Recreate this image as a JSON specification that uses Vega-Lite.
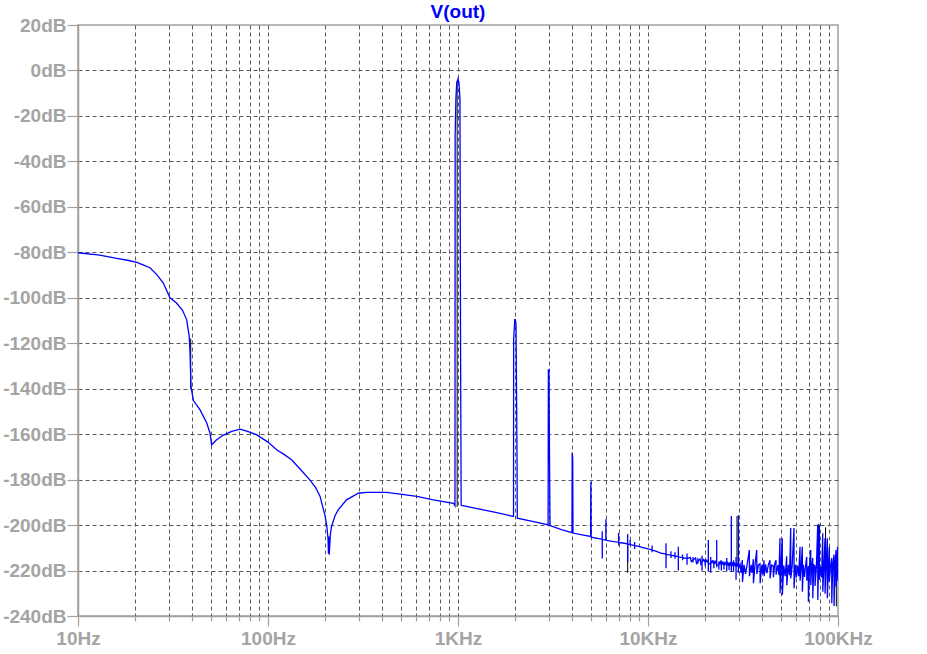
{
  "$schema": "https://vega.github.io/schema/vega-lite/v6.json",
  "autosize": "none",
  "padding": {"left": 78, "top": 25, "right": 89, "bottom": 38},
  "width": 760,
  "height": 591,
  "background": "white",
  "title": {"text": "V(out)", "color": "#0000ff", "font": "Liberation Sans", "fontWeight": "bold", "fontSize": 19, "anchor": "middle", "frame": "group", "baseline": "alphabetic", "offset": 6, "dy": 27},
  "config": {
    "view": {"stroke": "#a0a0a0", "strokeWidth": 1.5},
    "axis": {"labelFont": "Liberation Sans", "labelFontWeight": "bold", "labelFontSize": 19, "labelColor": "#a4a4a4", "domainColor": "#a0a0a0", "domainWidth": 1.5, "tickColor": "#a0a0a0", "tickWidth": 1.2, "title": null, "gridDash": [4, 3], "gridWidth": 1, "labelOverlap": false, "labelBound": false, "labelFlush": false}
  },
  "datasets": {
    "trace": [
      {"f": 10, "db": -80.2}, {"f": 13, "db": -81.2}, {"f": 16, "db": -82.7}, {"f": 18.5, "db": -83.6}, {"f": 20.4, "db": -84.4}, {"f": 22, "db": -85.5}, {"f": 23.9, "db": -86.8}, {"f": 26, "db": -89.8}, {"f": 28.1, "db": -93.5}, {"f": 30.5, "db": -100}, {"f": 33, "db": -102.3}, {"f": 35.5, "db": -105.5}, {"f": 37.3, "db": -109.6}, {"f": 38.5, "db": -117}, {"f": 38.9, "db": -125}, {"f": 39.3, "db": -139}, {"f": 40.5, "db": -145.2}, {"f": 43.9, "db": -149.3}, {"f": 47.6, "db": -155.1}, {"f": 49.5, "db": -159.5}, {"f": 50.5, "db": -164.7}, {"f": 53.7, "db": -162.5}, {"f": 58, "db": -160.5}, {"f": 64.4, "db": -158.8}, {"f": 71.3, "db": -157.8}, {"f": 78, "db": -158.8}, {"f": 87.3, "db": -160.3}, {"f": 100, "db": -163.5}, {"f": 111, "db": -166.9}, {"f": 122, "db": -169}, {"f": 133, "db": -171.3}, {"f": 150, "db": -176}, {"f": 166, "db": -180.1}, {"f": 178, "db": -183.5}, {"f": 188, "db": -187.4}, {"f": 200, "db": -196.2}, {"f": 204, "db": -200.6}, {"f": 207, "db": -206}, {"f": 208, "db": -212.5}, {"f": 209, "db": -205}, {"f": 210, "db": -213}, {"f": 213, "db": -204}, {"f": 216, "db": -200.6}, {"f": 225, "db": -196}, {"f": 234, "db": -193.3}, {"f": 259, "db": -188.9}, {"f": 299, "db": -186}, {"f": 330, "db": -185.6}, {"f": 421, "db": -185.6}, {"f": 496, "db": -186.4}, {"f": 607, "db": -187.4}, {"f": 742, "db": -188.9}, {"f": 947, "db": -190.4}, {"f": 964, "db": -191.5}, {"f": 966, "db": -28.6}, {"f": 975, "db": -12.5}, {"f": 985, "db": -5.4}, {"f": 1000, "db": -3.7}, {"f": 1012, "db": -5.4}, {"f": 1024, "db": -12.5}, {"f": 1031, "db": -115.4}, {"f": 1039, "db": -191.1}, {"f": 1045, "db": -191.3}, {"f": 1300, "db": -193}, {"f": 1600, "db": -194.5}, {"f": 1950, "db": -196.2}, {"f": 1960, "db": -196.2}, {"f": 1963, "db": -118.4}, {"f": 1990, "db": -109.6}, {"f": 2004, "db": -109.6}, {"f": 2020, "db": -111.8}, {"f": 2045, "db": -171.3}, {"f": 2051, "db": -197}, {"f": 2500, "db": -198.5}, {"f": 2950, "db": -199.8}, {"f": 2980, "db": -200}, {"f": 2990, "db": -131.7}, {"f": 3010, "db": -131.7}, {"f": 3040, "db": -184.5}, {"f": 3050, "db": -200.2}, {"f": 3500, "db": -202}, {"f": 3980, "db": -203.3}, {"f": 3990, "db": -168.2}, {"f": 4015, "db": -170.5}, {"f": 4030, "db": -203.5}, {"f": 4500, "db": -204.3}, {"f": 4990, "db": -205}, {"f": 4995, "db": -189.4}, {"f": 5005, "db": -181.1}, {"f": 5020, "db": -205.3},
      {"f": 5500, "db": -206}, {"f": 5740, "db": -206.2}, {"f": 5742, "db": -202.7}, {"f": 5745, "db": -214.7}, {"f": 5748, "db": -206.3}, {"f": 6000, "db": -206.6}, {"f": 6003, "db": -197.4}, {"f": 6008, "db": -206.7}, {"f": 6500, "db": -207.2}, {"f": 7000, "db": -207.6}, {"f": 7003, "db": -203.5}, {"f": 7008, "db": -209}, {"f": 7012, "db": -207.7}, {"f": 7500, "db": -208}, {"f": 7816, "db": -208.3}, {"f": 7818, "db": -203.9}, {"f": 7822, "db": -216.5}, {"f": 7826, "db": -208.4}, {"f": 8050, "db": -208.5}, {"f": 8053, "db": -206.5}, {"f": 8058, "db": -208.6}, {"f": 8500, "db": -209}, {"f": 8503, "db": -207.5}, {"f": 8507, "db": -210.5}, {"f": 8510, "db": -209}, {"f": 9078, "db": -209.5}, {"f": 9200, "db": -209.7}, {"f": 10000, "db": -210.5}, {"f": 10500, "db": -210.9}, {"f": 10503, "db": -209}, {"f": 10507, "db": -212}, {"f": 10510, "db": -211}, {"f": 11000, "db": -211.5}, {"f": 11568, "db": -212.2}, {"f": 12435, "db": -212.8}, {"f": 12438, "db": -208}, {"f": 12442, "db": -219}, {"f": 12446, "db": -212.9}, {"f": 13200, "db": -213.2}, {"f": 13203, "db": -211.5}, {"f": 13207, "db": -214.5}, {"f": 13210, "db": -213.3}, {"f": 13875, "db": -213.6}, {"f": 13878, "db": -212}, {"f": 13882, "db": -214.8}, {"f": 13886, "db": -213.7}, {"f": 14437, "db": -213.9}, {"f": 14440, "db": -209.5}, {"f": 14444, "db": -220}, {"f": 14448, "db": -214}, {"f": 15200, "db": -214.3}, {"f": 15203, "db": -213}, {"f": 15207, "db": -215.5}, {"f": 15210, "db": -214.4}, {"f": 16048, "db": -214.7}, {"f": 16051, "db": -212.5}, {"f": 16055, "db": -217.5}, {"f": 16059, "db": -214.8}, {"f": 16700, "db": -214.2}, {"f": 16900, "db": -216}, {"f": 17249, "db": -215.3}, {"f": 17252, "db": -214}, {"f": 17256, "db": -216.5}, {"f": 17260, "db": -215.4}, {"f": 17800, "db": -214.5}, {"f": 18000, "db": -216.8}, {"f": 18300, "db": -215.8}, {"f": 18303, "db": -214.5}, {"f": 18307, "db": -217}, {"f": 18310, "db": -215.9}, {"f": 18800, "db": -215}, {"f": 19000, "db": -217.2}, {"f": 19243, "db": -216.2}, {"f": 19246, "db": -213.5}, {"f": 19250, "db": -220.1}, {"f": 19254, "db": -216.3}, {"f": 19600, "db": -215.2}, {"f": 20000, "db": -216.5}, {"f": 20003, "db": -215}, {"f": 20007, "db": -218}, {"f": 20010, "db": -216.6}, {"f": 20400, "db": -215.5}, {"f": 20770, "db": -216.8}, {"f": 20773, "db": -206.6}, {"f": 20777, "db": -220.4}, {"f": 20781, "db": -216.9}, {"f": 21380, "db": -217}, {"f": 21383, "db": -214}, {"f": 21387, "db": -221}, {"f": 21391, "db": -217.1}, {"f": 21800, "db": -215.8}, {"f": 22200, "db": -217.2}, {"f": 22203, "db": -215.5}, {"f": 22207, "db": -219}, {"f": 22210, "db": -217.3}, {"f": 22600, "db": -216}, {"f": 22991, "db": -217.4}, {"f": 22994, "db": -206.6}, {"f": 22998, "db": -218.5}, {"f": 23002, "db": -217.5}, {"f": 23600, "db": -217.5}, {"f": 23603, "db": -216}, {"f": 23607, "db": -219.5}, {"f": 23610, "db": -217.6}, {"f": 24000, "db": -216.3}, {"f": 24310, "db": -217.7}, {"f": 24313, "db": -215.5}, {"f": 24317, "db": -220}, {"f": 24321, "db": -217.8}, {"f": 24700, "db": -216.5}, {"f": 25100, "db": -217.8}, {"f": 25103, "db": -216}, {"f": 25107, "db": -219.5}, {"f": 25110, "db": -217.9}, {"f": 25500, "db": -216.6}, {"f": 25960, "db": -218}, {"f": 25963, "db": -214.5}, {"f": 25967, "db": -220.4}, {"f": 25971, "db": -218.1}, {"f": 26300, "db": -216.7}, {"f": 26700, "db": -218.1}, {"f": 26703, "db": -216.5}, {"f": 26707, "db": -219.8}, {"f": 26710, "db": -218.2}, {"f": 27100, "db": -216.8}, {"f": 27448, "db": -218.2}, {"f": 27451, "db": -196}, {"f": 27455, "db": -220.5}, {"f": 27459, "db": -218.3}, {"f": 27800, "db": -216.9}, {"f": 28200, "db": -218.3}, {"f": 28203, "db": -215.5}, {"f": 28207, "db": -220.5}, {"f": 28210, "db": -218.4}, {"f": 28600, "db": -217}, {"f": 29060, "db": -218.5}, {"f": 29063, "db": -214}, {"f": 29067, "db": -224.1}, {"f": 29071, "db": -218.6}, {"f": 29400, "db": -217.2}, {"f": 29880, "db": -218.6}, {"f": 29883, "db": -195.7}, {"f": 29887, "db": -221}, {"f": 29891, "db": -218.7},
      {"f": 30500, "db": -217}, {"f": 30900, "db": -221}, {"f": 31360, "db": -215.4}, {"f": 31420, "db": -225}, {"f": 32000, "db": -217.5}, {"f": 32600, "db": -221.5}, {"f": 33300, "db": -217}, {"f": 34140, "db": -211}, {"f": 34200, "db": -222.5}, {"f": 34900, "db": -217.5}, {"f": 35300, "db": -221}, {"f": 35840, "db": -215}, {"f": 35900, "db": -225.6}, {"f": 36500, "db": -218}, {"f": 37340, "db": -211}, {"f": 37400, "db": -221.5}, {"f": 38100, "db": -217.5}, {"f": 38870, "db": -217}, {"f": 38930, "db": -225.6}, {"f": 39700, "db": -217.5}, {"f": 40200, "db": -221.5}, {"f": 40790, "db": -215.5}, {"f": 40850, "db": -222.5}, {"f": 41600, "db": -217.3}, {"f": 42200, "db": -221.2}, {"f": 43000, "db": -217.5}, {"f": 43860, "db": -215.5}, {"f": 43920, "db": -223.5}, {"f": 44700, "db": -217.6}, {"f": 45650, "db": -218}, {"f": 45710, "db": -223}, {"f": 46400, "db": -217.2}, {"f": 47170, "db": -215.5}, {"f": 47230, "db": -221.8}, {"f": 48300, "db": -217.6}, {"f": 48900, "db": -222}, {"f": 49500, "db": -205.8}, {"f": 49560, "db": -230}, {"f": 50200, "db": -217.2}, {"f": 50900, "db": -205.8}, {"f": 50960, "db": -230.7}, {"f": 51800, "db": -217.8}, {"f": 52700, "db": -222.5}, {"f": 53700, "db": -213.7}, {"f": 53760, "db": -226.5}, {"f": 54800, "db": -217.5}, {"f": 55600, "db": -222}, {"f": 56380, "db": -201.3}, {"f": 56440, "db": -223.5}, {"f": 57400, "db": -217.8}, {"f": 58670, "db": -201.3}, {"f": 58730, "db": -227.8}, {"f": 59600, "db": -217.5}, {"f": 60400, "db": -223}, {"f": 61200, "db": -217.8}, {"f": 62100, "db": -222.5}, {"f": 63100, "db": -209.5}, {"f": 63160, "db": -224.5}, {"f": 64000, "db": -218}, {"f": 64880, "db": -209.5}, {"f": 64950, "db": -229.3}, {"f": 65700, "db": -217.5}, {"f": 66600, "db": -222.8}, {"f": 67500, "db": -218}, {"f": 68440, "db": -214}, {"f": 68510, "db": -224.5}, {"f": 69780, "db": -218}, {"f": 69850, "db": -233.7}, {"f": 70800, "db": -218.2}, {"f": 71840, "db": -211}, {"f": 71910, "db": -226.5}, {"f": 72700, "db": -218}, {"f": 73600, "db": -214.5}, {"f": 73670, "db": -232.2}, {"f": 74600, "db": -217.5}, {"f": 75680, "db": -218}, {"f": 75750, "db": -226.8}, {"f": 77000, "db": -218}, {"f": 78220, "db": -199.9}, {"f": 78290, "db": -233}, {"f": 79000, "db": -217.8}, {"f": 79750, "db": -199.9}, {"f": 79820, "db": -224}, {"f": 81000, "db": -218.5}, {"f": 82000, "db": -223}, {"f": 83100, "db": -203.6}, {"f": 83170, "db": -229.3}, {"f": 84300, "db": -218}, {"f": 85440, "db": -205.8}, {"f": 85510, "db": -230.2}, {"f": 86600, "db": -218}, {"f": 87850, "db": -205.8}, {"f": 87920, "db": -232.2}, {"f": 89000, "db": -218.5}, {"f": 90000, "db": -209.5}, {"f": 90070, "db": -224.8}, {"f": 91300, "db": -218}, {"f": 92640, "db": -214.5}, {"f": 92710, "db": -234.4}, {"f": 93900, "db": -217.5}, {"f": 95260, "db": -213}, {"f": 95330, "db": -235.6}, {"f": 96400, "db": -218}, {"f": 97600, "db": -211}, {"f": 97670, "db": -227}, {"f": 98800, "db": -217.5}, {"f": 99500, "db": -209.5}, {"f": 99800, "db": -224.5}, {"f": 100000, "db": -219.5}
    ],
    "black": [
      {"f": 990, "db": -192, "hi": -5},
      {"f": 39.2, "db": -140, "hi": -118},
      {"f": 7816, "db": -221, "hi": -209},
      {"f": 27500, "db": -218, "hi": -196},
      {"f": 29400, "db": -218, "hi": -196},
      {"f": 79000, "db": -219, "hi": -199.5},
      {"f": 86000, "db": -219, "hi": -201},
      {"f": 98000, "db": -235.8, "hi": -220}
    ]
  },
  "encoding": {
    "x": {
      "field": "f", "type": "quantitative",
      "scale": {"type": "log", "domain": [10, 100000], "nice": false},
      "axis": {
        "values": [10, 20, 30, 40, 50, 60, 70, 80, 90, 100, 200, 300, 400, 500, 600, 700, 800, 900, 1000, 2000, 3000, 4000, 5000, 6000, 7000, 8000, 9000, 10000, 20000, 30000, 40000, 50000, 60000, 70000, 80000, 90000, 100000],
        "labelExpr": "datum.value == 10 ? '10Hz' : datum.value == 100 ? '100Hz' : datum.value == 1000 ? '1KHz' : datum.value == 10000 ? '10KHz' : datum.value == 100000 ? '100KHz' : ''",
        "grid": true,
        "gridColor": {"condition": {"test": "datum.value == 10 || datum.value == 100000", "value": "transparent"}, "value": "#5a5a5a"},
        "tickSize": {"condition": {"test": "datum.value == 10 || datum.value == 100 || datum.value == 1000 || datum.value == 10000 || datum.value == 100000", "value": 10}, "value": 5},
        "labelPadding": 3
      }
    },
    "y": {
      "field": "db", "type": "quantitative",
      "scale": {"domain": [-240, 20], "nice": false, "zero": false},
      "axis": {
        "values": [-240, -220, -200, -180, -160, -140, -120, -100, -80, -60, -40, -20, 0, 20],
        "labelExpr": "datum.value + 'dB'",
        "grid": true,
        "gridColor": {"condition": {"test": "datum.value == -240 || datum.value == 20", "value": "transparent"}, "value": "#5a5a5a"},
        "tickSize": 11,
        "labelPadding": 1
      }
    }
  },
  "layer": [
    {
      "data": {"name": "black"},
      "mark": {"type": "rule", "color": "black", "strokeWidth": 1},
      "encoding": {"y2": {"field": "hi"}}
    },
    {
      "data": {"name": "trace"},
      "mark": {"type": "line", "color": "#0000ff", "strokeWidth": 1.3, "clip": true},
      "encoding": {"order": {"value": null}}
    }
  ]
}
